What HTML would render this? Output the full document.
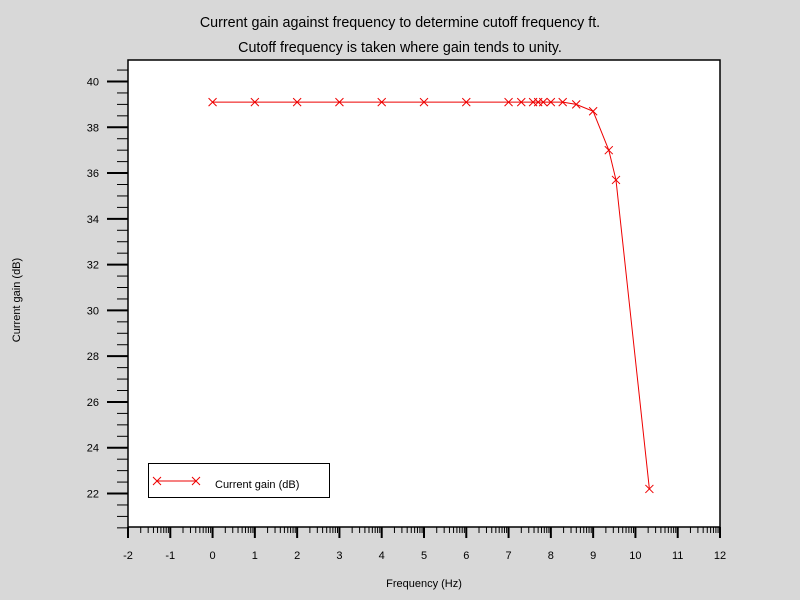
<!DOCTYPE html>
<html><head><meta charset="utf-8"><style>
body{margin:0;background:#d8d8d8;}
svg{display:block;font-family:"Liberation Sans",sans-serif;}
</style></head><body>
<svg id="c" width="800" height="600">
<rect width="800" height="600" fill="#d8d8d8"/>
<text x="400" y="27" text-anchor="middle" font-size="14.3">Current gain against frequency to determine cutoff frequency ft.</text>
<text x="400" y="52" text-anchor="middle" font-size="14.3">Cutoff frequency is taken where gain tends to unity.</text>
<rect x="128" y="60" width="592" height="467" fill="#fff" stroke="#000" stroke-width="1.5"/>
<g id="ticks"></g>
<g id="series"></g>
<text x="424" y="587" text-anchor="middle" font-size="11">Frequency (Hz)</text>
<text x="20" y="300" text-anchor="middle" font-size="11" transform="rotate(-90 20 300)">Current gain (dB)</text>
<g>
<rect x="148.5" y="463.5" width="181" height="34" fill="#fff" stroke="#000"/>
<line x1="157" y1="481" x2="196" y2="481" stroke="#e00"/>
<path d="M153 477l8 8M161 477l-8 8M192 477l8 8M200 477l-8 8" stroke="#e00"/>
<text x="215" y="488" font-size="11">Current gain (dB)</text>
</g>
</svg>
<script>
const xVals=[0,1,2,3,4,5,6,7,7.3,7.58,7.7,7.82,8,8.28,8.6,9,9.37,9.54,10.33];
const yVals=[39.1,39.1,39.1,39.1,39.1,39.1,39.1,39.1,39.1,39.1,39.1,39.1,39.1,39.1,39.0,38.7,37.0,35.7,22.2];
const xTicks=[-2,-1,0,1,2,3,4,5,6,7,8,9,10,11,12];
const yTicks=[22,24,26,28,30,32,34,36,38,40];
const NS='http://www.w3.org/2000/svg';
const X=v=>128+(v+2)*592/14;
const Y=v=>81.5+(40-v)*22.89;
function mk(t,a,p){const e=document.createElementNS(NS,t);for(const k in a)e.setAttribute(k,a[k]);p.appendChild(e);return e;}
const tg=document.getElementById('ticks');
xTicks.forEach(v=>{
 const l=mk('line',{x1:X(v),x2:X(v),y1:527,y2:538,stroke:'#000','stroke-width':2},tg);
 
 
 const t=mk('text',{x:X(v),y:559,'text-anchor':'middle','font-size':11},tg);t.textContent=v;
 
 
 if(v<12)for(let k=2;k<10;k++){const m=mk('line',{x1:X(v+Math.log10(k)),x2:X(v+Math.log10(k)),y1:527,y2:533,stroke:'#000'},tg);
 
 }
});
yTicks.forEach(v=>{
 const l=mk('line',{x1:107,x2:128,y1:Y(v),y2:Y(v),stroke:'#000','stroke-width':2},tg);
 
 
 const t=mk('text',{x:99,y:Y(v)+4,'text-anchor':'end','font-size':11},tg);t.textContent=v;
 
 
});
for(let v=20.5;v<=40.9;v+=0.5){if(Math.abs(v%2)<1e-9)continue;const m=mk('line',{x1:117,x2:128,y1:Y(v),y2:Y(v),stroke:'#000'},tg);
 
 }
const sg=document.getElementById('series');
const pl=mk('polyline',{points:xVals.map((x,i)=>X(x)+','+Y(yVals[i])).join(' '),fill:'none',stroke:'#e00'},sg);


xVals.forEach((x,i)=>{const px=X(x),py=Y(yVals[i]);
 const p=mk('path',{d:`M${px-4} ${py-4}l8 8M${px+4} ${py-4}l-8 8`,stroke:'#e00'},sg);
 
 });
</script>
</body></html>
